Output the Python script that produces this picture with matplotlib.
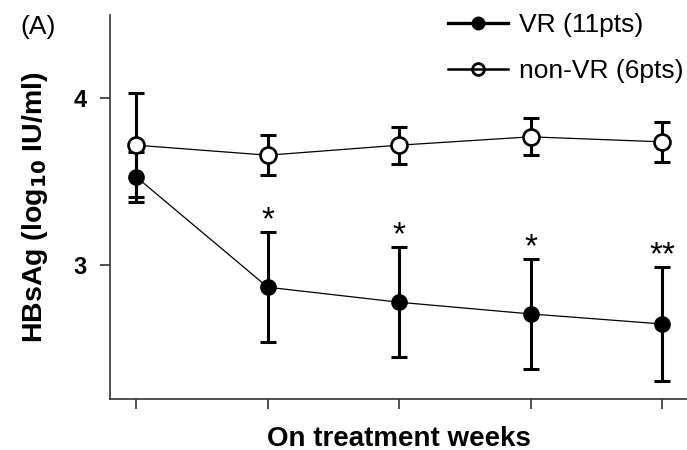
import matplotlib.pyplot as plt
from matplotlib.lines import Line2D

plt.rcParams['font.family'] = ['Liberation Sans', 'DejaVu Sans']

weeks = [0, 1, 2, 3, 4]
vr_mean = [3.53, 2.87, 2.78, 2.71, 2.65]
vr_err = [0.15, 0.33, 0.33, 0.33, 0.34]
nonvr_mean = [3.72, 3.66, 3.72, 3.77, 3.74]
nonvr_err = [0.31, 0.12, 0.11, 0.11, 0.12]
stars = ['', '*', '*', '*', '**']

fig = plt.figure(figsize=(6.87, 4.5), dpi=100)
ax = fig.add_axes([0.160, 0.113, 0.840, 0.854])

# non-VR group (open circles)
ax.errorbar(weeks, nonvr_mean, yerr=nonvr_err, fmt='none', ecolor='black',
            elinewidth=2.2, capsize=5.5, capthick=2.2, zorder=2)
ax.plot(weeks, nonvr_mean, color='black', lw=0.9, marker='o', ms=11.5,
        mfc='white', mec='black', mew=1.9, zorder=4)

# VR group (filled circles)
ax.errorbar(weeks, vr_mean, yerr=vr_err, fmt='none', ecolor='black',
            elinewidth=2.2, capsize=5.5, capthick=2.2, zorder=2)
ax.plot(weeks, vr_mean, color='black', lw=0.9, marker='o', ms=11,
        mfc='black', mec='black', zorder=4)

for x, m, e, s in zip(weeks, vr_mean, vr_err, stars):
    if s:
        ax.annotate(s, (x, m + e), xytext=(0, 8), textcoords='offset points',
                    ha='center', va='center', fontsize=24)

ax.set_xlim(-0.2, 4.19)
ax.set_ylim(2.2, 4.5)
ax.set_xticks(weeks)
ax.set_xticklabels([])
ax.set_yticks([3, 4])
ax.set_yticklabels(['3', '4'], fontweight='bold', fontsize=17)
ax.tick_params(axis='both', direction='out', length=7.5, width=1.2, color='#333333')
ax.tick_params(axis='y', pad=9)
for side in ['top', 'right']:
    ax.spines[side].set_visible(False)
for side in ['left', 'bottom']:
    ax.spines[side].set_linewidth(1.2)
    ax.spines[side].set_color('#333333')

ax.set_xlabel('On treatment weeks', fontsize=20, fontweight='bold', labelpad=8)
ax.set_ylabel('HBsAg (log$_{\\mathbf{10}}$ IU/ml)', fontsize=20.5, fontweight='bold', labelpad=17)

handles = [
    Line2D([], [], color='black', lw=2.4, marker='o', ms=9, mfc='black', mec='black'),
    Line2D([], [], color='black', lw=1.8, marker='o', ms=8.5, mfc='none', mec='black', mew=2),
]
fig.legend(handles, ['VR (11pts)', 'non-VR (6pts)'], loc='upper right',
           bbox_to_anchor=(1.01, 0.995), frameon=False, fontsize=19,
           borderaxespad=0, handlelength=2.3, handletextpad=0.4, labelspacing=0.85)

fig.text(0.03, 0.94, '(A)', fontsize=19, va='center')

fig.savefig('out.png', dpi=100)
